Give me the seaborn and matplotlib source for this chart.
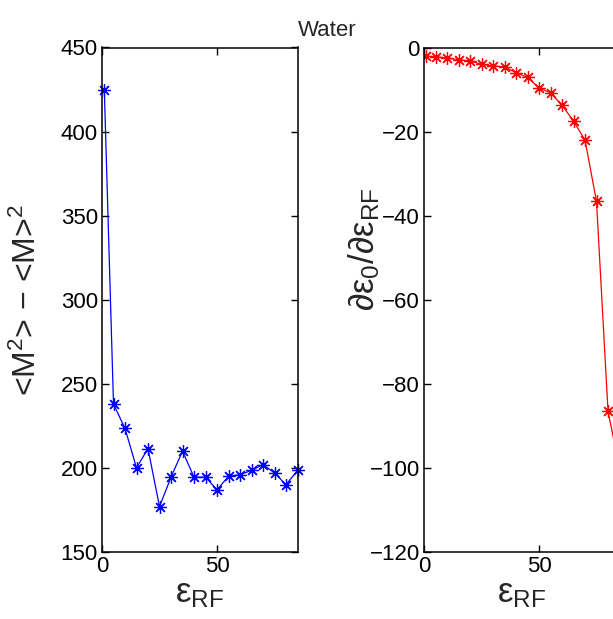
import matplotlib
matplotlib.use("Agg")
import matplotlib.pyplot as plt
import seaborn as sns
import pandas as pd

# ---- data ----
eps_rf = [1, 5, 10, 15, 20, 25, 30, 35, 40, 45, 50, 55, 60, 65, 70, 75, 80, 85]
fluct = [425, 238, 223.5, 200, 211.5, 177, 194.5, 210, 194.5, 194.5, 187,
         195, 196, 198.5, 202, 197, 190, 198.5]
deriv = [-2.1, -2.2, -2.5, -2.9, -3.2, -4.0, -4.4, -4.6, -6.0, -7.1, -9.6,
         -10.8, -13.7, -17.5, -22.0, -36.6, -86.5, -100.0]
title = "Water"
left_yticks = [150, 200, 250, 300, 350, 400, 450]
right_yticks = [-120, -100, -80, -60, -40, -20, 0]
xticks = [0, 50]

sns.set_style("ticks")
plt.rcParams["font.family"] = ["Liberation Sans", "DejaVu Sans"]
plt.rcParams["mathtext.fontset"] = "custom"
plt.rcParams["mathtext.rm"] = "Liberation Sans"
plt.rcParams["mathtext.it"] = "Liberation Sans:italic"
plt.rcParams["mathtext.sf"] = "Liberation Sans"
plt.rcParams["mathtext.default"] = "rm"

df = pd.DataFrame({"eps": eps_rf, "fluct": fluct, "deriv": deriv})

fig = plt.figure(figsize=(6.13, 6.19), dpi=100)
axL = fig.add_axes([102 / 613, 1 - 552 / 619, 195.5 / 613, 504.5 / 619])
axR = fig.add_axes([424 / 613, 1 - 552 / 619, 195.5 / 613, 504.5 / 619])

ast = (8, 2, 0)
sns.lineplot(data=df, x="eps", y="fluct", ax=axL, color="#0000ff",
             marker=ast, markersize=9, markeredgewidth=0.9, linewidth=0.9,
             markeredgecolor="#0000ff", clip_on=False)
sns.lineplot(data=df, x="eps", y="deriv", ax=axR, color="#ff0000",
             marker=ast, markersize=9, markeredgewidth=0.9, linewidth=0.9,
             markeredgecolor="#ff0000", clip_on=True)

for ax, yt in ((axL, left_yticks), (axR, right_yticks)):
    ax.set_xlim(0, 85)
    ax.set_ylim(min(yt), max(yt))
    ax.set_xticks(xticks)
    ax.set_yticks(yt)
    ax.tick_params(direction="in", length=5, width=1, labelsize=16,
                   top=True, right=True, pad=3, colors="black")
    for s in ax.spines.values():
        s.set_visible(True)
        s.set_linewidth(1.1)
        s.set_color("black")
    ax.set_xlabel(r"$\varepsilon_{\mathrm{RF}}$", fontsize=25, labelpad=0)

axL.set_ylabel(r"<M$^2$> $-$ <M>$^2$", fontsize=23)
axR.set_ylabel(r"$\partial\varepsilon_0/\partial\varepsilon_{\mathrm{RF}}$", fontsize=25)
axL.yaxis.set_label_coords(-0.30, 0.5)
axR.yaxis.set_label_coords(-0.215, 0.6)

fig.text(327 / 613, 1 - 36 / 619, title, ha="center", va="baseline", fontsize=16)

fig.savefig("out.png", dpi=100)
